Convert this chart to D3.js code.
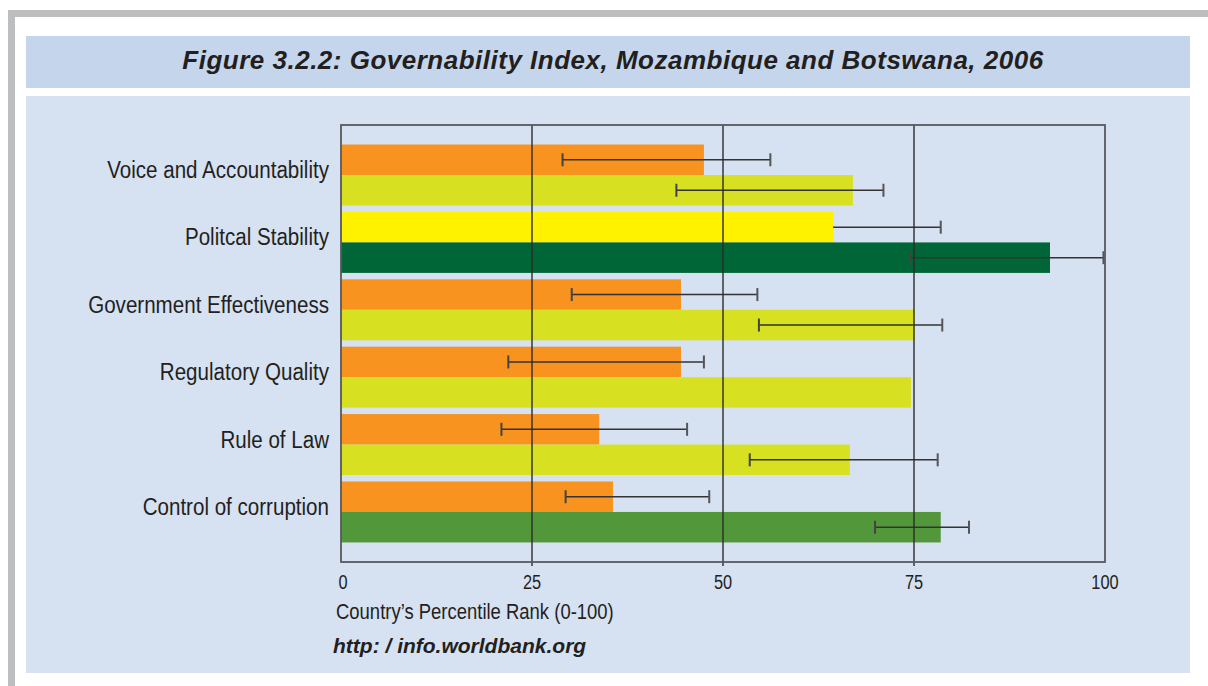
<!DOCTYPE html>
<html>
<head>
<meta charset="utf-8">
<script src="https://cdn.jsdelivr.net/npm/d3@7"></script>
<style>
	body { margin: 0; background: #fff; }
	#graphContainer { width: 1208px; height: 686px; }
</style>
</head>
<body>
<div id="graphContainer"></div>
<script>
var categories = ["Voice and Accountability", "Politcal Stability", "Government Effectiveness",
	"Regulatory Quality", "Rule of Law", "Control of corruption"];
var seriesNames = ["Mozambique", "Botswana"];

var mozambique = [47.5, 64.4, 44.5, 44.5, 33.8, 35.6];
var botswana = [67.0, 92.8, 75.1, 74.6, 66.6, 78.5];

// error bars, null = not shown
var mozLow = [29.0, null, 30.2, 21.9, 21.0, 29.4];
var mozHigh = [56.2, 78.5, 54.5, 47.5, 45.3, 48.2];
var botLow = [43.9, 74.5, 54.7, null, 53.5, 69.9];
var botHigh = [71.0, 99.8, 78.7, null, 78.1, 82.2];

var mozColors = ["#F7931E", "#FFF200", "#F7931E", "#F7931E", "#F7931E", "#F7931E"];
var botColors = ["#D8E022", "#006638", "#D8E022", "#D8E022", "#D8E022", "#52973A"];

var xTicks = [0, 25, 50, 75, 100];

var titleText = "Figure 3.2.2: Governability Index, Mozambique and Botswana, 2006";
var axisTitle = "Country\u2019s Percentile Rank (0-100)";
var sourceText = "http: / info.worldbank.org";

window.onload = function()
{
	GenerateGraph();
}

function GenerateGraph()
{
	var data = [];
	for(var i = 0; i < categories.length; i++)
	{
		data.push({
			"Category": categories[i],
			"Values": [
				{"Series": seriesNames[0], "Value": mozambique[i], "Low": mozLow[i], "High": mozHigh[i], "Color": mozColors[i]},
				{"Series": seriesNames[1], "Value": botswana[i], "Low": botLow[i], "High": botHigh[i], "Color": botColors[i]}
			]
		});
	}

	var W = 1208, H = 686;
	var left = 341, right = 1105, top = 125, bottom = 562;
	var sans = "'Liberation Sans', Arial, sans-serif";
	var squeeze = 0.84; // no narrow font installed, so squash Arial-like text

	var svg = d3.select("#graphContainer").append("svg")
		.attr("width", W)
		.attr("height", H);

	/* frame and panels */
	svg.append("rect").attr("x", 8).attr("y", 10).attr("width", W - 8).attr("height", 7).attr("fill", "#BDBEC0");
	svg.append("rect").attr("x", 8).attr("y", 10).attr("width", 7).attr("height", H - 10).attr("fill", "#BDBEC0");
	svg.append("rect").attr("x", 26).attr("y", 36).attr("width", 1164).attr("height", 52).attr("fill", "#C5D6EC");
	svg.append("rect").attr("x", 26).attr("y", 96).attr("width", 1164).attr("height", 577).attr("fill", "#D6E1F2");

	svg.append("text")
		.attr("x", 613)
		.attr("y", 69)
		.attr("text-anchor", "middle")
		.style("font-family", sans)
		.style("font-size", "26px")
		.style("font-weight", "bold")
		.style("font-style", "italic")
		.style("letter-spacing", "0.5px")
		.attr("fill", "#231F20")
		.text(titleText);

	/* Scale */
	var x = d3.scaleLinear().domain([0, 100]).range([left, right]);
	var y = d3.scaleBand().domain(categories).range([top, bottom]).paddingInner(0.095).paddingOuter(0.29);
	var y1 = d3.scaleBand().domain(seriesNames).range([0, y.bandwidth()]);

	/* bars */
	var groups = svg.append("g").selectAll(".group")
		.data(data).enter()
		.append("g")
		.attr("class", "group")
		.attr("transform", d => `translate(0, ${y(d.Category)})`);

	groups.selectAll("rect")
		.data(d => d.Values).enter()
		.append("rect")
		.attr("x", x(0))
		.attr("y", d => y1(d.Series))
		.attr("width", d => x(d.Value) - x(0))
		.attr("height", y1.bandwidth())
		.attr("fill", d => d.Color);

	/* grid lines */
	svg.append("g").selectAll("line")
		.data(xTicks.slice(1, 4)).enter()
		.append("line")
		.attr("x1", d => x(d)).attr("x2", d => x(d))
		.attr("y1", top).attr("y2", bottom + 4)
		.attr("stroke", "#2B2B2B")
		.attr("stroke-width", 1.4);

	svg.append("rect")
		.attr("x", left).attr("y", top)
		.attr("width", right - left).attr("height", bottom - top)
		.attr("fill", "none")
		.attr("stroke", "#58595B")
		.attr("stroke-width", 1.8);

	/* error bars */
	var err = groups.selectAll(".err")
		.data(d => d.Values.filter(v => v.High != null)).enter()
		.append("g")
		.attr("class", "err")
		.attr("transform", d => `translate(0, ${y1(d.Series) + y1.bandwidth() / 2})`);

	err.append("line")
		.attr("x1", d => x(d.Low != null ? d.Low : d.Value))
		.attr("x2", d => x(d.High))
		.attr("y1", 0).attr("y2", 0)
		.attr("stroke", "#333")
		.attr("stroke-width", 1.5);

	err.append("line")
		.attr("x1", d => x(d.High)).attr("x2", d => x(d.High))
		.attr("y1", -6.5).attr("y2", 6.5)
		.attr("stroke", "#555")
		.attr("stroke-width", 2);

	err.filter(d => d.Low != null).append("line")
		.attr("x1", d => x(d.Low)).attr("x2", d => x(d.Low))
		.attr("y1", -6.5).attr("y2", 6.5)
		.attr("stroke", "#444")
		.attr("stroke-width", 2);

	/* category labels */
	svg.append("g").selectAll("text")
		.data(categories).enter()
		.append("text")
		.attr("transform", d => `translate(${left - 12}, ${y(d) + y.bandwidth() / 2 + 3}) scale(${squeeze}, 1)`)
		.attr("text-anchor", "end")
		.style("font-family", sans)
		.style("font-size", "24.5px")
		.attr("fill", "#231F20")
		.text(d => d);

	/* x tick labels */
	svg.append("g").selectAll("text")
		.data(xTicks).enter()
		.append("text")
		.attr("transform", d => `translate(${x(d) + (d == 0 ? 2 : 0)}, 589) scale(${squeeze}, 1)`)
		.attr("text-anchor", "middle")
		.style("font-family", sans)
		.style("font-size", "19.5px")
		.attr("fill", "#231F20")
		.text(d => d);

	svg.append("text")
		.attr("transform", `translate(336, 619) scale(${squeeze}, 1)`)
		.style("font-family", sans)
		.style("font-size", "22px")
		.attr("fill", "#231F20")
		.text(axisTitle);

	svg.append("text")
		.attr("x", 333)
		.attr("y", 653)
		.style("font-family", sans)
		.style("font-size", "21px")
		.style("font-weight", "bold")
		.style("font-style", "italic")
		.attr("fill", "#231F20")
		.text(sourceText);
}
</script>
</body>
</html>
